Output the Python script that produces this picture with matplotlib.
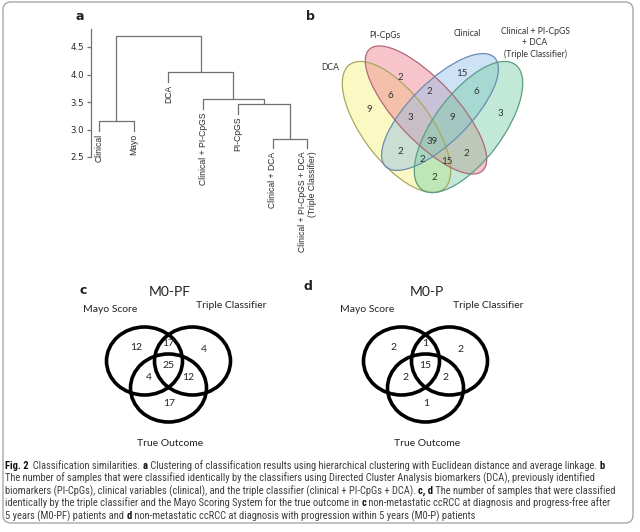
import matplotlib
matplotlib.use('Agg')
import matplotlib.pyplot as plt
from matplotlib.patches import Ellipse, FancyBboxPatch
from matplotlib import font_manager

W, H = 640, 532

# ---- panel a: hierarchical clustering (dendrogram) ----
leaf_names = ['Clinical', 'Mayo', 'DCA', 'Clinical + PI-CpGS', 'PI-CpGS',
              'Clinical + DCA', 'Clinical + PI-CpGS + DCA\n(Triple Classifier)']
# hclust-style merges: negative = leaf number, positive = earlier merge
merge_pairs = [(-1, -2), (-6, -7), (-5, 2), (-4, 3), (-3, 4), (1, 5)]
merge_heights = [3.15, 2.83, 3.46, 3.55, 4.04, 4.70]
hang = 0.17
y_ticks = [2.5, 3.0, 3.5, 4.0, 4.5]

# ---- panel b: four-set venn ----
venn4_names = ['DCA', 'PI-CpGs', 'Clinical',
               'Clinical + PI-CpGS\n+ DCA\n(Triple Classifier)']
venn4_regions = ['D', 'P', 'C', 'T', 'DP', 'PC', 'CT', 'DPC', 'PCT', 'DPCT',
                 'DC', 'PT', 'DCT', 'DPT', 'DT']
venn4_counts = [9, 2, 15, 3, 6, 2, 6, 3, 9, 39, 2, 2, 2, 15, 2]

# ---- panels c, d: three-set venns ----
venn3_names = ['Mayo Score', 'Triple Classifier', 'True Outcome']
venn3_regions = ['M', 'MT', 'T', 'MTO', 'MO', 'TO', 'O']
m0pf_counts = [12, 17, 4, 25, 4, 12, 17]
m0p_counts = [2, 1, 2, 15, 2, 2, 1]

caption = [
    [('Fig. 2', True), ('  Classification similarities. ', False), ('a', True),
     (' Clustering of classification results using hierarchical clustering with Euclidean distance and average linkage. ', False),
     ('b', True)],
    [('The number of samples that were classified identically by the classifiers using Directed Cluster Analysis biomarkers (DCA), previously identified', False)],
    [('biomarkers (PI-CpGs), clinical variables (clinical), and the triple classifier (clinical + PI-CpGs + DCA). ', False),
     ('c, d', True), (' The number of samples that were classified', False)],
    [('identically by the triple classifier and the Mayo Scoring System for the true outcome in ', False),
     ('c', True), (' non-metastatic ccRCC at diagnosis and progress-free after', False)],
    [('5 years (M0-PF) patients and ', False), ('d', True),
     (' non-metastatic ccRCC at diagnosis with progression within 5 years (M0-P) patients', False)],
]

installed = {f.name for f in font_manager.fontManager.ttflist}
cap_font = 'Liberation Sans'
for cand in ['Liberation Sans Narrow', 'Roboto Condensed', 'Open Sans Condensed']:
    if cand in installed:
        cap_font = cand
        break
venn_font = 'Lato'
txt = '#333333'

fig = plt.figure(figsize=(W / 100, H / 100), dpi=100)


def px_axes(x0, y0, x1, y1):
    return fig.add_axes([x0 / W, 1 - y1 / H, (x1 - x0) / W, (y1 - y0) / H])


# background frame, pixel coordinates (y down)
bg = px_axes(0, 0, W, H)
bg.set_xlim(0, W)
bg.set_ylim(H, 0)
bg.axis('off')
bg.add_patch(FancyBboxPatch((3, 2), 630, 521, boxstyle='round,pad=0,rounding_size=8',
                            fc='none', ec='#a8a8a8', lw=1.0))

# ---------------- panel a ----------------
ax = px_axes(91, 19.5, 320, 157)
ax.set_xlim(1 + (91 - 99) / 34.7, 1 + (320 - 99) / 34.7)
ax.set_ylim(2.5, 5.0)
node_x = {}
line_c = '#707070'
for k, ((l, r), h) in enumerate(zip(merge_pairs, merge_heights), start=1):
    xs, hs = [], []
    for c in (l, r):
        if c < 0:
            xs.append(-c)
            hs.append(h - hang)
            ax.text(-c, h - hang - 0.06, leaf_names[-c - 1], rotation=90, ha='center',
                    va='top', multialignment='right', fontsize=6.2, color='#2a2a2a',
                    family='Liberation Sans')
        else:
            xs.append(node_x[c])
            hs.append(merge_heights[c - 1])
    ax.plot([xs[0], xs[0], xs[1], xs[1]], [hs[0], h, h, hs[1]], color=line_c, lw=0.9)
    node_x[k] = (xs[0] + xs[1]) / 2
for s in ['top', 'right', 'bottom']:
    ax.spines[s].set_visible(False)
ax.spines['left'].set_bounds(2.5, 4.82)
ax.spines['left'].set_color(line_c)
ax.spines['left'].set_linewidth(0.9)
ax.set_xticks([])
ax.set_yticks(y_ticks)
ax.set_yticklabels(['%.1f' % v for v in y_ticks])
ax.tick_params(axis='y', length=3, width=0.9, color=line_c, labelsize=6.2,
               labelcolor='#2a2a2a', pad=2)
bg.text(80, 17, 'a', fontsize=9, fontweight='bold', ha='center', va='center', color='#222')

# ---------------- panel b ----------------
# ellipses: centre (px), semi-major, semi-minor, angle (y axis points down)
ell_geom = [((396.5, 127), 78, 34, 53),     # DCA
            ((426, 110), 83, 30, 47),       # PI-CpGs
            ((440, 112), 77, 30, 135),      # Clinical
            ((468.5, 127), 78, 34, 127)]    # Triple classifier
fills = ['#f4f27c', '#ef7c8e', '#92bfe8', '#78cfa8']
edges = ['#a8a860', '#b06878', '#6a8cb0', '#5e9c80']
for (c, a, b, ang), fc in zip(ell_geom, fills):
    bg.add_patch(Ellipse(c, 2 * a, 2 * b, angle=ang, fc=fc, ec='none', alpha=0.45))
for (c, a, b, ang), ec in zip(ell_geom, edges):
    bg.add_patch(Ellipse(c, 2 * a, 2 * b, angle=ang, fc='none', ec=ec, lw=0.9))
region_pos = {'D': (369, 109), 'P': (400, 78), 'C': (461.5, 74), 'T': (500, 113),
              'DP': (390, 96), 'PC': (429, 92), 'CT': (476, 92), 'DPC': (410, 118),
              'PCT': (452, 118), 'DPCT': (432, 142), 'DC': (400, 151), 'PT': (466, 153),
              'DCT': (422, 159), 'DPT': (447, 162), 'DT': (434, 177)}
for reg, n in zip(venn4_regions, venn4_counts):
    bg.text(*region_pos[reg], str(n), ha='center', va='center', fontsize=7,
            color=txt, family=venn_font)
name_pos = [(330, 67), (385, 35), (467, 34), (535, 43)]
for nm, p in zip(venn4_names, name_pos):
    bg.text(*p, nm, ha='center', va='center', fontsize=6.2, color=txt,
            family=venn_font, linespacing=1.25)
bg.text(310, 16, 'b', fontsize=9, fontweight='bold', ha='center', va='center', color='#222')

# ---------------- panels c, d ----------------
circ_off = [(-24, 0), (24, 0), (0, 27)]
reg_off = {'M': (-32, -14), 'MT': (0, -18), 'T': (35, -12), 'MTO': (0, 5),
           'MO': (-20, 16), 'TO': (20, 16), 'O': (1, 43)}
name_off = [(-58, -51), (63, -55), (2, 82)]


def venn3(cx, cy, counts, title, letter, lpos):
    for dx, dy in circ_off:
        bg.add_patch(Ellipse((cx + dx, cy + dy), 76, 68, fc='none', ec='black', lw=2.6))
    for reg, n in zip(venn3_regions, counts):
        dx, dy = reg_off[reg]
        bg.text(cx + dx, cy + dy, str(n), ha='center', va='center', fontsize=7.5,
                color='#222', family=venn_font)
    for nm, (dx, dy) in zip(venn3_names, name_off):
        bg.text(cx + dx, cy + dy, nm, ha='center', va='center', fontsize=7.5,
                color='#222', family=venn_font)
    bg.text(cx + 1, cy - 69, title, ha='center', va='center', fontsize=10,
            color='#222', family=venn_font)
    bg.text(*lpos, letter, fontsize=9, fontweight='bold', ha='center', va='center', color='#222')


venn3(168.5, 361, m0pf_counts, 'M0-PF', 'c', (83, 290))
venn3(425.5, 361, m0p_counts, 'M0-P', 'd', (308, 287))

# ---------------- caption ----------------
renderer = fig.canvas.get_renderer()
probe = fig.text(0, 0, caption[1][0][0], fontsize=7, family=cap_font)
cap_size = 7 * 602 / probe.get_window_extent(renderer).width
probe.remove()
for i, parts in enumerate(caption):
    x = 5
    yb = 469 + 12.5 * i
    for s, bold in parts:
        t = fig.text(x / W, 1 - yb / H, s, fontsize=cap_size, family=cap_font,
                     fontweight='bold' if bold else 'normal',
                     color='#111' if bold else '#404040', va='baseline')
        x += t.get_window_extent(renderer).width

fig.savefig('out.png', dpi=100)
